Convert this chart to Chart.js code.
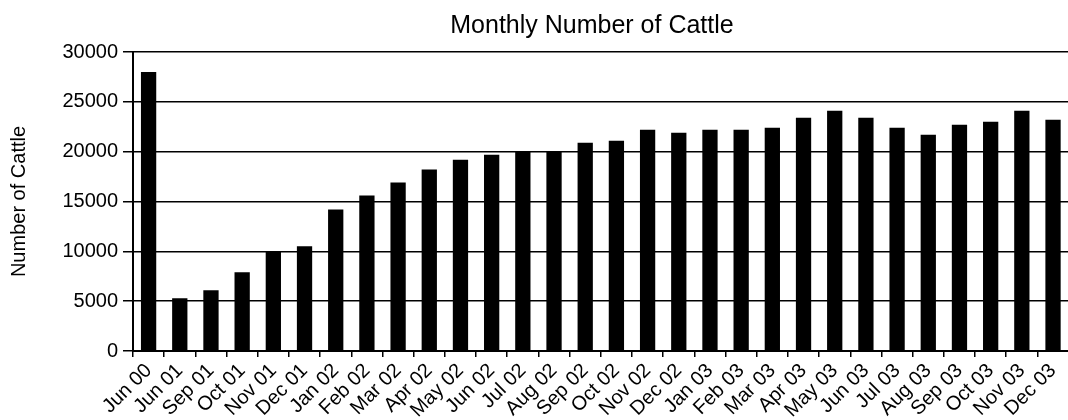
<!DOCTYPE html>
<html>
<head>
<meta charset="utf-8">
<script src="https://cdn.jsdelivr.net/npm/chart.js@4.4.0/dist/chart.umd.min.js"></script>
<style>
  html, body { margin: 0; padding: 0; background: #fff; overflow: hidden; }
  .container { width: 1072px; height: 420px; position: relative; }
</style>
</head>
<body>
<div class="container">
  <canvas id="myChart"></canvas>
</div>
<script>
const months = [
  "Jun 00", "Jun 01", "Sep 01", "Oct 01", "Nov 01", "Dec 01",
  "Jan 02", "Feb 02", "Mar 02", "Apr 02", "May 02", "Jun 02",
  "Jul 02", "Aug 02", "Sep 02", "Oct 02", "Nov 02", "Dec 02",
  "Jan 03", "Feb 03", "Mar 03", "Apr 03", "May 03", "Jun 03",
  "Jul 03", "Aug 03", "Sep 03", "Oct 03", "Nov 03", "Dec 03"
];
const cattle = [
  28000, 5300, 6100, 7900, 10000, 10500,
  14200, 15600, 16900, 18200, 19200, 19700,
  20000, 20000, 20900, 21100, 22200, 21900,
  22200, 22200, 22400, 23400, 24100, 23400,
  22400, 21700, 22700, 23000, 24100, 23200
];
const yTicks = [0, 5000, 10000, 15000, 20000, 25000, 30000];

const chartTitle = "Monthly Number of Cattle";
const fontFamily = "'Liberation Sans', Arial, sans-serif";

// title sits a bit left of the plot centre in the original, so draw it ourselves
const titlePlugin = {
  id: "topTitle",
  afterDraw(chart) {
    const ctx = chart.ctx;
    ctx.save();
    ctx.fillStyle = "#000";
    ctx.font = "25px " + fontFamily;
    ctx.textAlign = "center";
    ctx.textBaseline = "alphabetic";
    ctx.fillText(chartTitle, 592, 33);
    ctx.restore();
  }
};

const ctx = document.getElementById("myChart");
const myChart = new Chart(ctx, {
  type: "bar",
  data: {
    labels: months,
    datasets: [
      {
        label: "Number of Cattle",
        data: cattle,
        backgroundColor: "#000",
        borderWidth: 0,
        barPercentage: 0.49,
        categoryPercentage: 1.0
      }
    ]
  },
  options: {
    responsive: true,
    maintainAspectRatio: false,
    animation: false,
    layout: { padding: { top: 52, right: 0, left: 0, bottom: 0 } },
    plugins: {
      legend: { display: false },
      tooltip: { enabled: false }
    },
    scales: {
      x: {
        afterFit(scale) { scale.height = 69; },
        grid: {
          display: true,
          drawOnChartArea: false,
          drawTicks: true,
          tickLength: 6,
          color: "#000",
          lineWidth: 1.5
        },
        border: { display: true, color: "#000", width: 2 },
        ticks: {
          color: "#000",
          autoSkip: false,
          maxRotation: 45,
          minRotation: 45,
          padding: 2,
          font: { family: fontFamily, size: 20 }
        }
      },
      y: {
        min: 0,
        max: 30000,
        afterFit(scale) { scale.width = 133; },
        afterBuildTicks(scale) { scale.ticks = yTicks.map(v => ({ value: v })); },
        grid: {
          color: "#000",
          lineWidth: 1.5,
          tickLength: 10
        },
        border: { display: true, color: "#000", width: 2 },
        ticks: {
          color: "#000",
          padding: 5,
          font: { family: fontFamily, size: 20 },
          callback: v => String(v)
        },
        title: {
          display: true,
          text: "Number of Cattle",
          color: "#000",
          padding: { top: 7, bottom: 0 },
          font: { family: fontFamily, size: 20 }
        }
      }
    }
  },
  plugins: [titlePlugin]
});
</script>
</body>
</html>
